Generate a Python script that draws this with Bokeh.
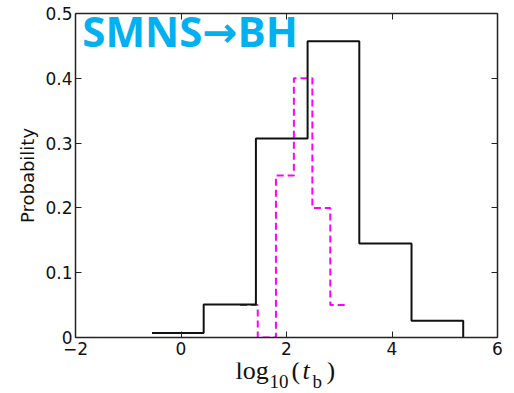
from bokeh.plotting import figure
from bokeh.layouts import column
from bokeh.models import LinearAxis, FixedTicker, Label, Range1d, CustomJSTickFormatter, ColumnDataSource
from bokeh.core.properties import value
from bokeh.embed import file_html
from bokeh.resources import INLINE

# ---- data ----
black_edges = [-0.55, 0.43, 1.42, 2.40, 3.38, 4.37, 5.35]
black_probs = [0.007, 0.051, 0.307, 0.457, 0.145, 0.026]

magenta_edges = [1.12, 1.455, 1.80, 2.14, 2.49, 2.83, 3.18]
magenta_probs = [0.05, 0.0, 0.25, 0.40, 0.20, 0.05]

x_ticks = [-2, 0, 2, 4, 6]
x_tick_labels = ["\u22122", "0", "2", "4", "6"]
y_ticks = [0, 0.1, 0.2, 0.3, 0.4, 0.5]
y_tick_labels = ["0", "0.1", "0.2", "0.3", "0.4", "0.5"]

title_text = "SMNS\u2192BH"
y_label = "Probability"
x_label_parts = ["log", "10", "(", "t", "b", ")"]

W = 514
P_H = 362
L_H = 393 - P_H
FRAME_L, FRAME_R = 75, 497

# ---- main figure ----
p = figure(width=W, height=P_H, x_range=Range1d(-2, 6), y_range=Range1d(0, 0.5),
           output_backend="svg", toolbar_location=None,
           min_border_left=FRAME_L, min_border_right=W - FRAME_R, min_border_top=13,
           min_border_bottom=25)
p.xgrid.visible = False
p.ygrid.visible = False
p.outline_line_color = None
p.background_fill_color = "white"
p.border_fill_color = "white"

TICK_FONT = "DejaVu Sans"

def style_axis(ax, ticks, labels=None, n_minor=5):
    ax.ticker = FixedTicker(ticks=ticks, num_minor_ticks=n_minor)
    ax.axis_line_color = "#222222"
    ax.axis_line_width = 1.5
    ax.major_tick_line_color = "#222222"
    ax.minor_tick_line_color = "#555555"
    ax.major_tick_in = 6
    ax.major_tick_out = 0
    ax.minor_tick_in = 3
    ax.minor_tick_out = 0
    ax.major_label_text_font = TICK_FONT
    ax.major_label_text_font_size = "17px"
    ax.major_label_text_color = "#111111"
    if labels is not None:
        ax.major_label_overrides = {t: l for t, l in zip(ticks, labels)}
    else:
        ax.formatter = CustomJSTickFormatter(code="return ''")

xa = p.xaxis[0]
style_axis(xa, x_ticks, x_tick_labels)
xa.major_label_standoff = 4

ya = p.yaxis[0]
style_axis(ya, y_ticks, y_tick_labels)
ya.major_label_standoff = 3
ya.axis_label = y_label
ya.axis_label_text_font = TICK_FONT
ya.axis_label_text_font_style = "normal"
ya.axis_label_text_font_size = "18px"
ya.axis_label_text_color = "#111111"
ya.axis_label_standoff = 4

top = LinearAxis()
style_axis(top, x_ticks)
top.major_label_standoff = 0
p.add_layout(top, "above")

right = LinearAxis()
style_axis(right, y_ticks)
right.major_label_standoff = 0
p.add_layout(right, "right")

# ---- histograms ----
p.step(x=magenta_edges, y=magenta_probs + [magenta_probs[-1]], mode="after",
       line_color="#FF00FF", line_width=2, line_dash="7 4")
p.step(x=black_edges, y=black_probs + [0.0], mode="after",
       line_color="#111111", line_width=2)

# ---- overlay title text ----
p.add_layout(Label(x=-1.87, y=0.4738, text=title_text, text_font="Open Sans, DejaVu Sans",
                   text_font_style="bold", text_font_size="42px", text_color="#00B0F0",
                   text_baseline="alphabetic", text_align="left"))

# ---- x label strip: log10(t_b) ----
# the strip's frame is aligned with the main frame by the column layout,
# so its x range is expressed in page pixels of that frame
lbl = figure(width=W, height=L_H, x_range=Range1d(FRAME_L, FRAME_R), y_range=Range1d(L_H, 0),
             output_backend="svg", toolbar_location=None,
             x_axis_location=None, y_axis_location=None, min_border=0)
lbl.xgrid.visible = False
lbl.ygrid.visible = False
lbl.outline_line_color = None
lbl.background_fill_color = "white"
lbl.border_fill_color = "white"

part_x = [235, 269, 291, 302, 312, 326]          # left edge, page px
part_base = [381, 389, 381, 381, 389, 381]       # glyph baseline, page px
part_px = [26, 19, 26, 26, 19, 26]               # font size, px
part_style = ["normal", "normal", "normal", "italic", "normal", "normal"]
BASE_SHIFT = 0.41                                 # renderer's baseline offset (em)

src = ColumnDataSource(dict(
    x=part_x,
    y=[b - P_H - BASE_SHIFT * s for b, s in zip(part_base, part_px)],
    text=x_label_parts,
    size=[f"{s}px" for s in part_px],
    style=part_style))
lbl.text(x="x", y="y", text="text", source=src, text_font=value("Liberation Serif"),
         text_font_size="size", text_font_style="style", text_color="#111111",
         text_baseline="alphabetic", text_align="left")

layout = column(p, lbl, spacing=0)
open("out.html", "w").write(file_html(layout, INLINE))
